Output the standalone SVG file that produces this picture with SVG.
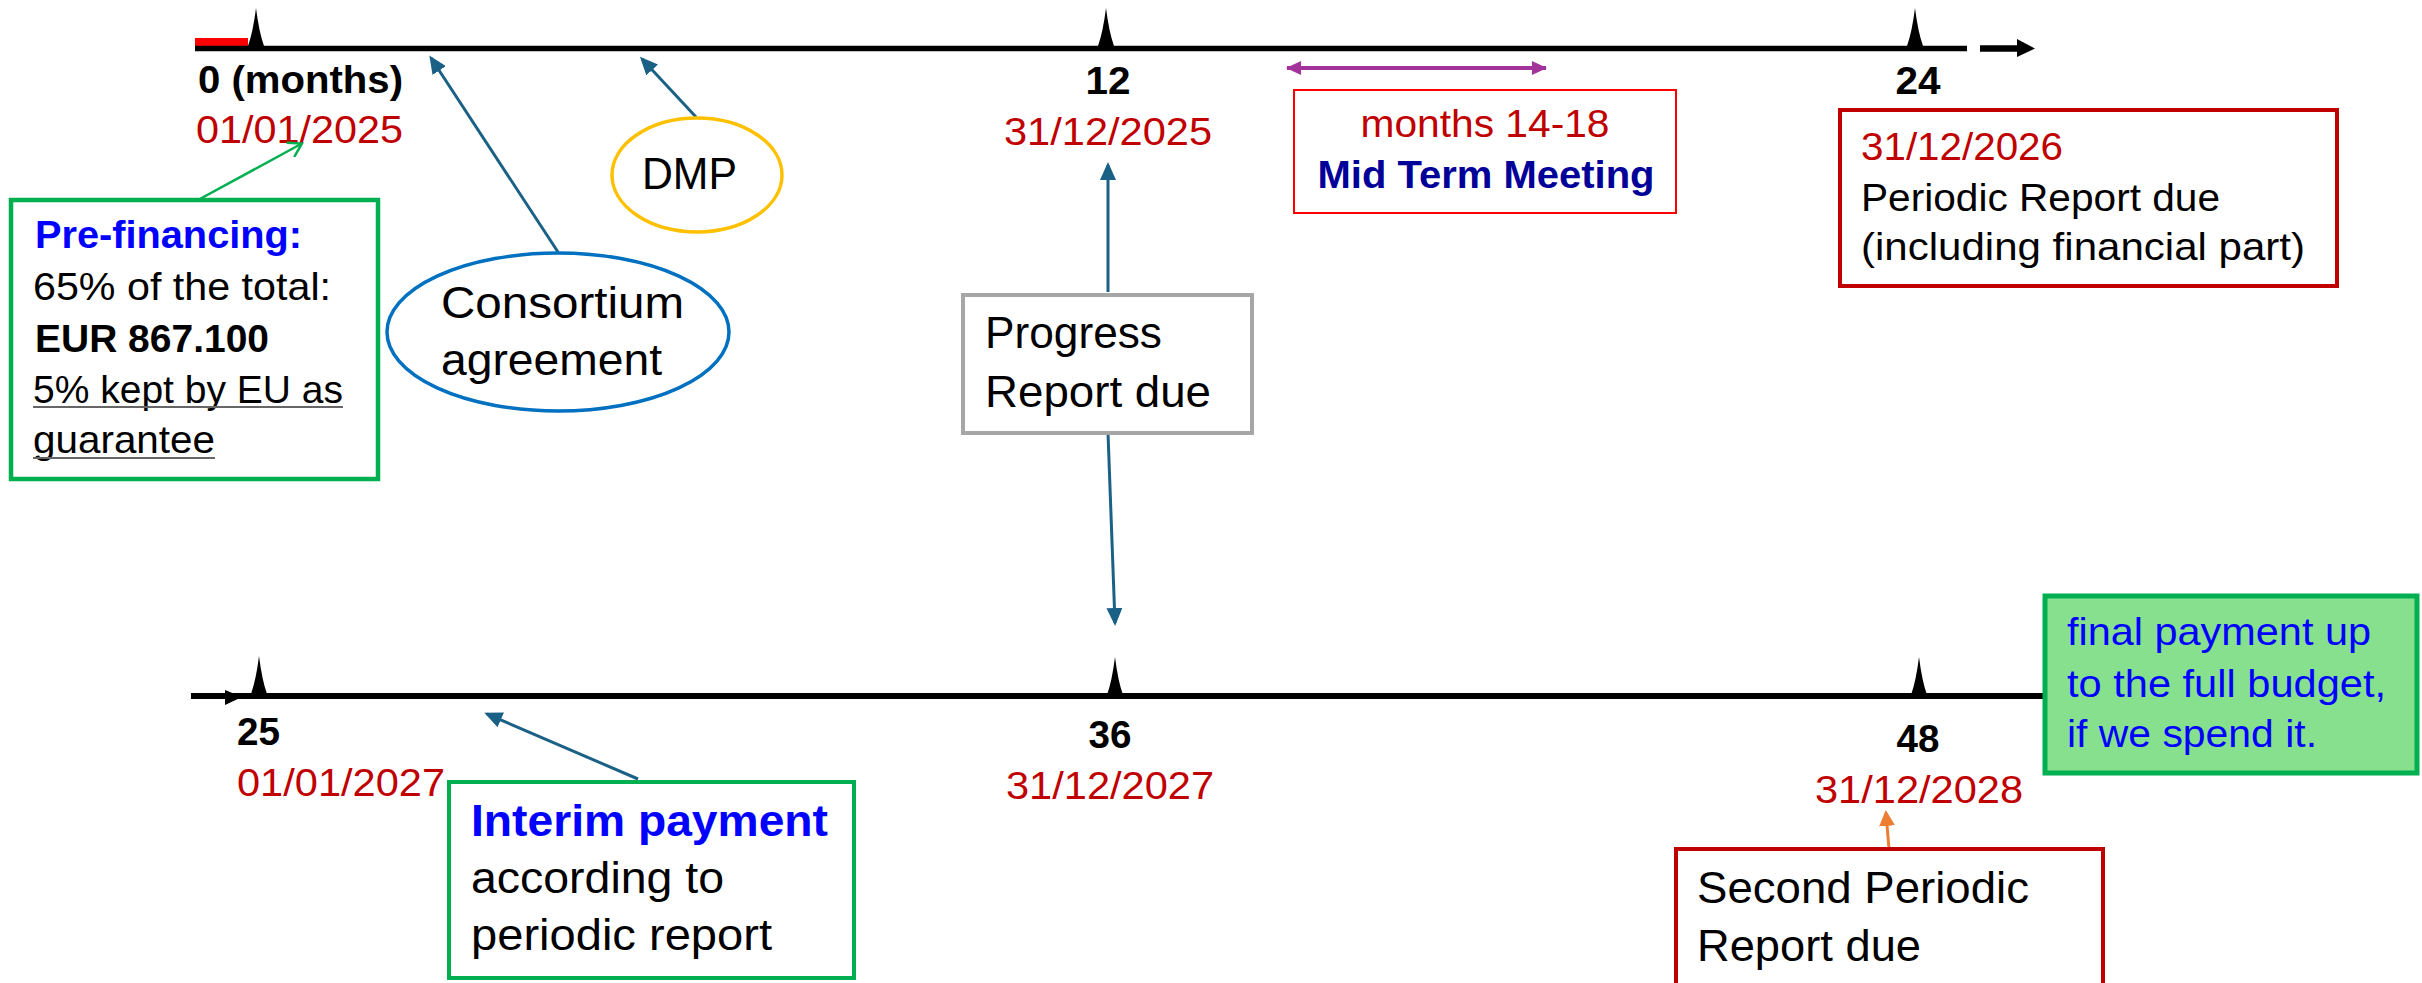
<svg xmlns="http://www.w3.org/2000/svg" width="2422" height="983" viewBox="0 0 2422 983">
<style>
text{font-family:"Liberation Sans",Arial,sans-serif;fill:#000}
.b{font-weight:bold}
.num{font-size:38px;font-weight:bold}
.date{font-size:38px;fill:#C00000}
.mid{text-anchor:middle}
.blue{fill:#0000FF}
.teal{stroke:#1B6186;stroke-width:3;fill:none}
</style>
<defs>
<marker id="ah" markerUnits="userSpaceOnUse" markerWidth="20" markerHeight="16" refX="15" refY="8" orient="auto">
<path d="M0,0 L18,8 L0,16 Z" fill="#1B6186"/>
</marker>
<marker id="ahg" markerUnits="userSpaceOnUse" markerWidth="16" markerHeight="18" refX="13" refY="9" orient="auto">
<path d="M1,1 L14,9 L1,17" fill="none" stroke="#00B050" stroke-width="2.5"/>
</marker>
<marker id="aho" markerUnits="userSpaceOnUse" markerWidth="16" markerHeight="16" refX="13" refY="8" orient="auto">
<path d="M0,0 L16,8 L0,16 Z" fill="#ED7D31"/>
</marker>
<marker id="ahp" markerUnits="userSpaceOnUse" markerWidth="16" markerHeight="16" refX="14" refY="8" orient="auto-start-reverse">
<path d="M0,1 L15,8 L0,15 Z" fill="#A2339B"/>
</marker>
<path id="tick" d="M-8,0 Q-3,-14 0,-38 Q3,-14 8,0 Z" fill="#000"/>
</defs>

<g id="timeline-top">
<rect x="195" y="38" width="53" height="8" fill="#FF0000"/>
<line x1="195" y1="48.5" x2="1967" y2="48.5" stroke="#000" stroke-width="5.5"/>
<line x1="1980" y1="48.5" x2="2018" y2="48.5" stroke="#000" stroke-width="6.5"/>
<path d="M2017,39 L2035,48.5 L2017,57 Z" fill="#000"/>
<use href="#tick" x="256" y="46"/>
<use href="#tick" x="1106" y="46"/>
<use href="#tick" x="1915" y="46"/>
<text class="num" x="198" y="93" textLength="205" lengthAdjust="spacingAndGlyphs">0 (months)</text>
<text class="date" x="196" y="143" textLength="207" lengthAdjust="spacingAndGlyphs">01/01/2025</text>
<text class="num mid" x="1108" y="94" textLength="45" lengthAdjust="spacingAndGlyphs">12</text>
<text class="date mid" x="1108" y="145" textLength="208" lengthAdjust="spacingAndGlyphs">31/12/2025</text>
<text class="num mid" x="1918" y="94" textLength="45" lengthAdjust="spacingAndGlyphs">24</text>
</g>

<g id="timeline-bottom">
<line x1="191" y1="696" x2="2045" y2="696" stroke="#000" stroke-width="6"/>
<path d="M225,690 L242,697 L225,705 Z" fill="#000"/>
<use href="#tick" x="259" y="694"/>
<use href="#tick" x="1115" y="695"/>
<use href="#tick" x="1919" y="695"/>
<text class="num" x="237" y="745" textLength="43" lengthAdjust="spacingAndGlyphs">25</text>
<text class="date" x="237" y="796" textLength="208" lengthAdjust="spacingAndGlyphs">01/01/2027</text>
<text class="num mid" x="1110" y="748" textLength="43" lengthAdjust="spacingAndGlyphs">36</text>
<text class="date mid" x="1110" y="799" textLength="208" lengthAdjust="spacingAndGlyphs">31/12/2027</text>
<text class="num mid" x="1918" y="752" textLength="43" lengthAdjust="spacingAndGlyphs">48</text>
<text class="date mid" x="1919" y="803" textLength="208" lengthAdjust="spacingAndGlyphs">31/12/2028</text>
</g>

<g id="connectors">
<line class="teal" x1="558" y1="252" x2="431" y2="58" marker-end="url(#ah)"/>
<line class="teal" x1="696" y1="117" x2="642" y2="59" marker-end="url(#ah)"/>
<line x1="198" y1="200" x2="301" y2="144" stroke="#00B050" stroke-width="2.5" marker-end="url(#ahg)"/>
<line class="teal" x1="1108" y1="292" x2="1108" y2="165" marker-end="url(#ah)"/>
<line class="teal" x1="1108" y1="433" x2="1115" y2="623" marker-end="url(#ah)"/>
<line class="teal" x1="638" y1="779" x2="487" y2="714" marker-end="url(#ah)"/>
<line x1="1889" y1="849" x2="1886" y2="813" stroke="#ED7D31" stroke-width="3" marker-end="url(#aho)"/>
<line x1="1287" y1="68" x2="1546" y2="68" stroke="#A2339B" stroke-width="4" marker-start="url(#ahp)" marker-end="url(#ahp)"/>
</g>

<g id="prefinancing">
<rect x="11" y="200" width="367" height="279" fill="#fff" stroke="#00B050" stroke-width="4.5"/>
<text class="b blue" x="35" y="248" font-size="39" textLength="267" lengthAdjust="spacingAndGlyphs">Pre-financing:</text>
<text x="33" y="300" font-size="39" textLength="298" lengthAdjust="spacingAndGlyphs">65% of the total:</text>
<text class="b" x="35" y="352" font-size="39" textLength="234" lengthAdjust="spacingAndGlyphs">EUR 867.100</text>
<text x="33" y="403" font-size="39" textLength="310" lengthAdjust="spacingAndGlyphs">5% kept by EU as</text>
<line x1="33" y1="407" x2="343" y2="407" stroke="#666" stroke-width="2"/>
<text x="33" y="453" font-size="39" textLength="182" lengthAdjust="spacingAndGlyphs">guarantee</text>
<line x1="33" y1="458" x2="215" y2="458" stroke="#666" stroke-width="2"/>
</g>

<g id="consortium">
<ellipse cx="558" cy="332" rx="171" ry="79" fill="#fff" stroke="#0070C0" stroke-width="3.5"/>
<text x="441" y="318" font-size="45" textLength="243" lengthAdjust="spacingAndGlyphs">Consortium</text>
<text x="441" y="375" font-size="45" textLength="221" lengthAdjust="spacingAndGlyphs">agreement</text>
</g>

<g id="dmp">
<ellipse cx="697" cy="175" rx="85" ry="57" fill="#fff" stroke="#FFC000" stroke-width="3.5"/>
<text x="642" y="189" font-size="45" textLength="95" lengthAdjust="spacingAndGlyphs">DMP</text>
</g>

<g id="progress">
<rect x="963" y="295" width="289" height="138" fill="#fff" stroke="#A6A6A6" stroke-width="4"/>
<text x="985" y="348" font-size="44" textLength="177" lengthAdjust="spacingAndGlyphs">Progress</text>
<text x="985" y="407" font-size="44" textLength="226" lengthAdjust="spacingAndGlyphs">Report due</text>
</g>

<g id="midterm">
<rect x="1294" y="90" width="382" height="123" fill="#fff" stroke="#FF0000" stroke-width="2"/>
<text class="mid" x="1485" y="137" font-size="38" style="fill:#C00000" textLength="249" lengthAdjust="spacingAndGlyphs">months 14-18</text>
<text class="mid b" x="1486" y="188" font-size="38" style="fill:#000099" textLength="337" lengthAdjust="spacingAndGlyphs">Mid Term Meeting</text>
</g>

<g id="periodic">
<rect x="1840" y="110" width="497" height="176" fill="#fff" stroke="#C00000" stroke-width="4"/>
<text x="1861" y="160" font-size="39" style="fill:#C00000" textLength="202" lengthAdjust="spacingAndGlyphs">31/12/2026</text>
<text x="1861" y="211" font-size="39" textLength="359" lengthAdjust="spacingAndGlyphs">Periodic Report due</text>
<text x="1861" y="260" font-size="39" textLength="444" lengthAdjust="spacingAndGlyphs">(including financial part)</text>
</g>

<g id="interim">
<rect x="449" y="782" width="405" height="196" fill="#fff" stroke="#00B050" stroke-width="4"/>
<text class="b blue" x="471" y="836" font-size="44" textLength="357" lengthAdjust="spacingAndGlyphs">Interim payment</text>
<text x="471" y="893" font-size="44" textLength="253" lengthAdjust="spacingAndGlyphs">according to</text>
<text x="471" y="950" font-size="44" textLength="301" lengthAdjust="spacingAndGlyphs">periodic report</text>
</g>

<g id="second-periodic">
<rect x="1676" y="849" width="427" height="170" fill="#fff" stroke="#C00000" stroke-width="4"/>
<text x="1697" y="903" font-size="45" textLength="332" lengthAdjust="spacingAndGlyphs">Second Periodic</text>
<text x="1697" y="961" font-size="45" textLength="224" lengthAdjust="spacingAndGlyphs">Report due</text>
</g>

<g id="final-payment">
<rect x="2045" y="596" width="372" height="177" fill="#86E08E" stroke="#00B050" stroke-width="5"/>
<text class="blue" x="2067" y="645" font-size="39" textLength="304" lengthAdjust="spacingAndGlyphs">final payment up</text>
<text class="blue" x="2067" y="697" font-size="39" textLength="319" lengthAdjust="spacingAndGlyphs">to the full budget,</text>
<text class="blue" x="2067" y="747" font-size="39" textLength="250" lengthAdjust="spacingAndGlyphs">if we spend it.</text>
</g>
</svg>
